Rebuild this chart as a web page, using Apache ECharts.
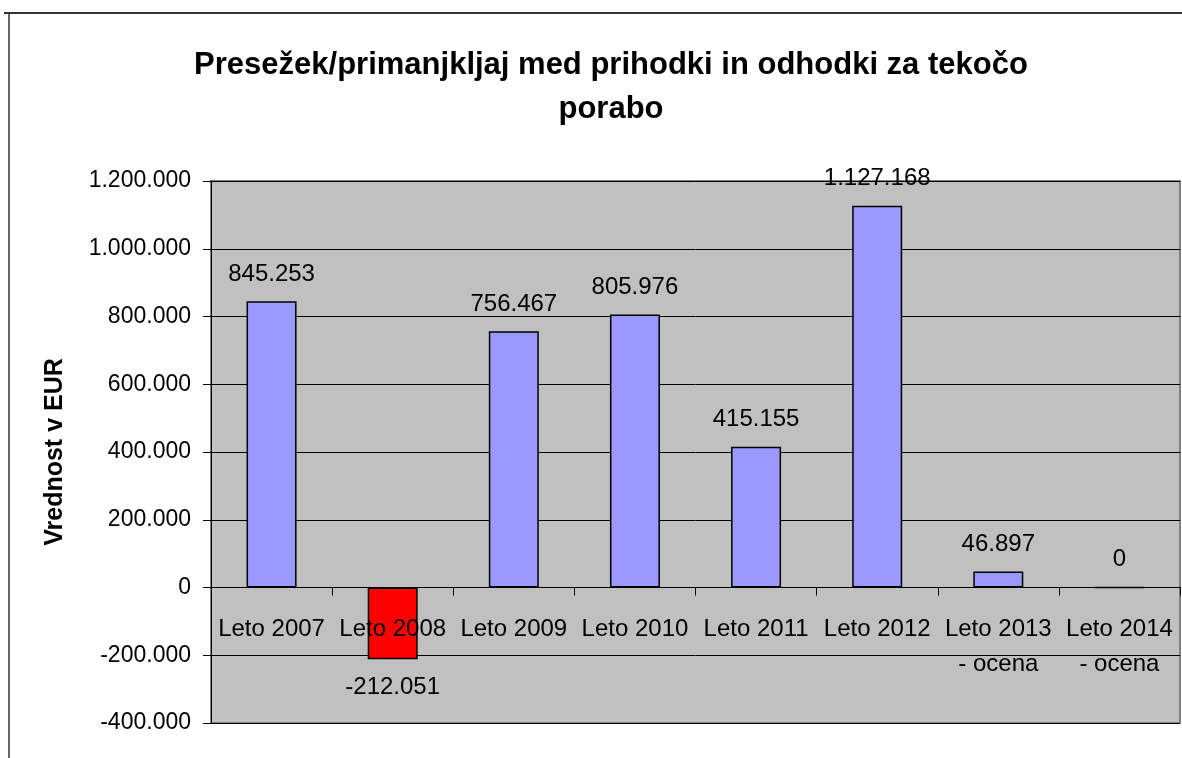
<!DOCTYPE html>
<html><head><meta charset="utf-8">
<script src="https://cdn.jsdelivr.net/npm/echarts@6/dist/echarts.min.js"></script>
<style>html,body{margin:0;padding:0;background:#fff}#c{width:1182px;height:758px}</style>
</head><body><div id="c"></div>
<script>
const categories = ['Leto 2007','Leto 2008','Leto 2009','Leto 2010','Leto 2011','Leto 2012','Leto 2013\n- ocena','Leto 2014\n- ocena'];
const values = [845253, -212051, 756467, 805976, 415155, 1127168, 46897, 0];
const yTicks = {min: -400000, max: 1200000, interval: 200000};
const titleText = 'Presežek/primanjkljaj med prihodki in odhodki za tekočo\nporabo';
const yName = 'Vrednost v EUR';

function fmt(v){
  const neg = v < 0; let s = Math.abs(Math.round(v)).toString();
  s = s.replace(/\B(?=(\d{3})+(?!\d))/g, '.');
  return (neg ? '-' : '') + s;
}
const F = '"Liberation Sans", Arial, sans-serif';
const chart = echarts.init(document.getElementById('c'));
chart.setOption({
  animation: false,
  backgroundColor: '#fff',
  title: {
    text: titleText, left: 606, top: 38, textAlign: 'center',
    textStyle: {fontFamily: F, fontSize: 31, fontWeight: 'bold', color: '#000', lineHeight: 44}
  },
  graphic: [
    {type: 'line', shape: {x1: 4, y1: 13, x2: 1182, y2: 13}, style: {stroke: '#333', lineWidth: 2}},
    {type: 'line', shape: {x1: 9, y1: 13, x2: 9, y2: 758}, style: {stroke: '#333', lineWidth: 1.5}}
  ],
  grid: {left: 211, top: 181, right: 2, bottom: 35, outerBoundsMode: 'none', containLabel: false,
    show: true, backgroundColor: '#C0C0C0', borderColor: '#808080', borderWidth: 2},
  xAxis: {
    type: 'category', data: categories, z: 10,
    axisLine: {onZero: true, lineStyle: {color: '#000', width: 1}},
    axisTick: {show: true, length: 8, lineStyle: {color: '#000'}},
    axisLabel: {fontFamily: F, fontSize: 24, color: '#000', margin: -111, lineHeight: 35, interval: 0, verticalAlign: 'top'},
    splitLine: {show: false}
  },
  yAxis: {
    type: 'value', min: yTicks.min, max: yTicks.max, interval: yTicks.interval,
    name: yName, nameLocation: 'middle', nameGap: 143, nameRotate: 90,
    nameTextStyle: {fontFamily: F, fontSize: 25, fontWeight: 'bold', color: '#000'},
    axisLine: {show: true, lineStyle: {color: '#000'}},
    axisTick: {show: true, length: 8, lineStyle: {color: '#000'}},
    axisLabel: {fontFamily: F, fontSize: 23, color: '#000', margin: 20, formatter: v => fmt(v)},
    splitLine: {show: true, lineStyle: {color: '#000', width: 1}}
  },
  series: [{
    type: 'bar', barWidth: 50,
    data: values.map(v => ({value: v, itemStyle: {color: v < 0 ? '#FF0000' : '#9999FF'},
      label: v < 0 ? {position: 'bottom', distance: 16} : {}})),
    itemStyle: {borderColor: '#000', borderWidth: 1.5},
    label: {show: true, position: 'top', distance: 15, fontFamily: F, fontSize: 24, color: '#000', formatter: p => fmt(p.value)}
  }]
});
</script></body></html>
